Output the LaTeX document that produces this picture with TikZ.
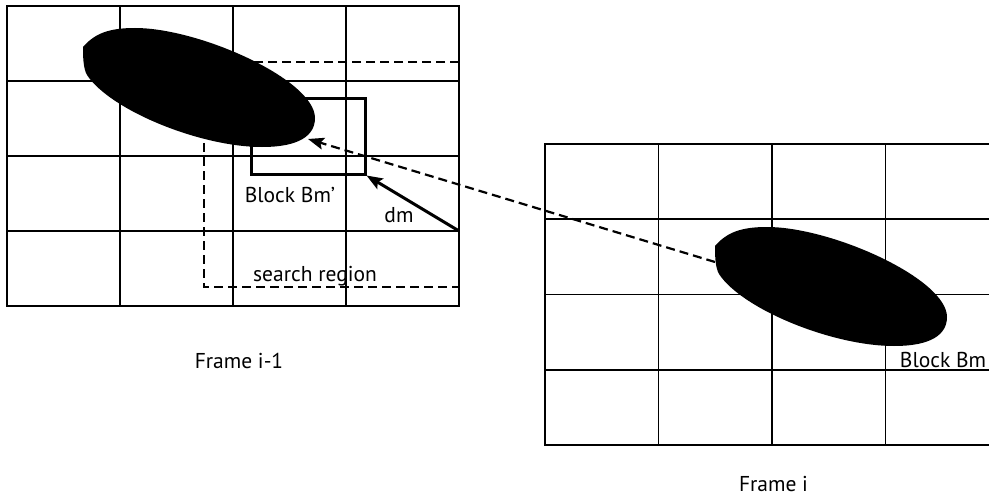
\documentclass[tikz,border=0pt]{standalone}
\usepackage{fontspec}
\setmainfont{PT Sans}
\usetikzlibrary{arrows.meta}
\begin{document}
\begin{tikzpicture}[x=1pt,y=-1pt,
  gridline/.style={line width=1.5pt},
  gridborder/.style={line width=2pt},
  dashline/.style={line width=2.2pt, dash pattern=on 9pt off 5pt},
  blob/.style={fill=black, draw=none},
  blockbox/.style={draw, line width=3pt, inner sep=0pt, fill=none},
  lbl/.style={inner sep=0pt, anchor=base, font=\fontsize{21.5}{25}\selectfont},
  tip/.style={-{Stealth[length=16pt,width=12pt,inset=3pt]}}
]
\useasboundingbox (0,0) rectangle (989,495);
\def\blobshape{(83,47) .. controls (95,33) and (110,28) .. (135,28)
  .. controls (200,28) and (315,80) .. (315,118)
  .. controls (315,135) and (300,147) .. (262,147)
  .. controls (200,147) and (110,110) .. (87,75)
  .. controls (83,68) and (83,55) .. cycle}
% left grid
\foreach \x in {120,233,346} \draw[gridline] (\x,6) -- (\x,306);
\foreach \y in {81,156,231} \draw[gridline] (7,\y) -- (459,\y);
\draw[gridborder] (7,6) rectangle (459,306);
% right grid
\foreach \x in {658.5,772,885.5} \draw[gridline] (\x,143.5) -- (\x,445);
\foreach \y in {219,294.5,370} \draw[gridline] (545,\y) -- (989,\y);
\draw[gridborder] (989,143.5) -- (545,143.5) -- (545,445) -- (989,445);
% search region
\draw[dashline] (459,62) -- (204,62) -- (204,287) -- (459,287);
% block Bm'
\node[blockbox, minimum width=114pt, minimum height=75pt] (bmp) at (308,136.5) {};
% blobs
\fill[blob] \blobshape;
\begin{scope}[shift={(632,199)}]
\fill[blob] \blobshape;
\end{scope}
% connectors
\coordinate (dmstart) at (459,231);
\coordinate (mvstart) at (715,262);
\coordinate (mvend) at (308,139);
\draw[dashline, tip] (mvstart) -- (mvend);
\draw[line width=3pt, tip] (dmstart) -- (bmp.south east);
% labels
\node[lbl] (tbmp) at (290,202) {Block Bm’};
\node[lbl] (tdm) at (399,222) {dm};
\node[lbl] (tsr) at (315,281.5) {search region};
\node[lbl] (tfl) at (239,368) {Frame i-1};
\node[lbl] (tbm) at (943,367) {Block Bm};
\node[lbl] (tfr) at (773.5,491) {Frame i};
\end{tikzpicture}
\end{document}
